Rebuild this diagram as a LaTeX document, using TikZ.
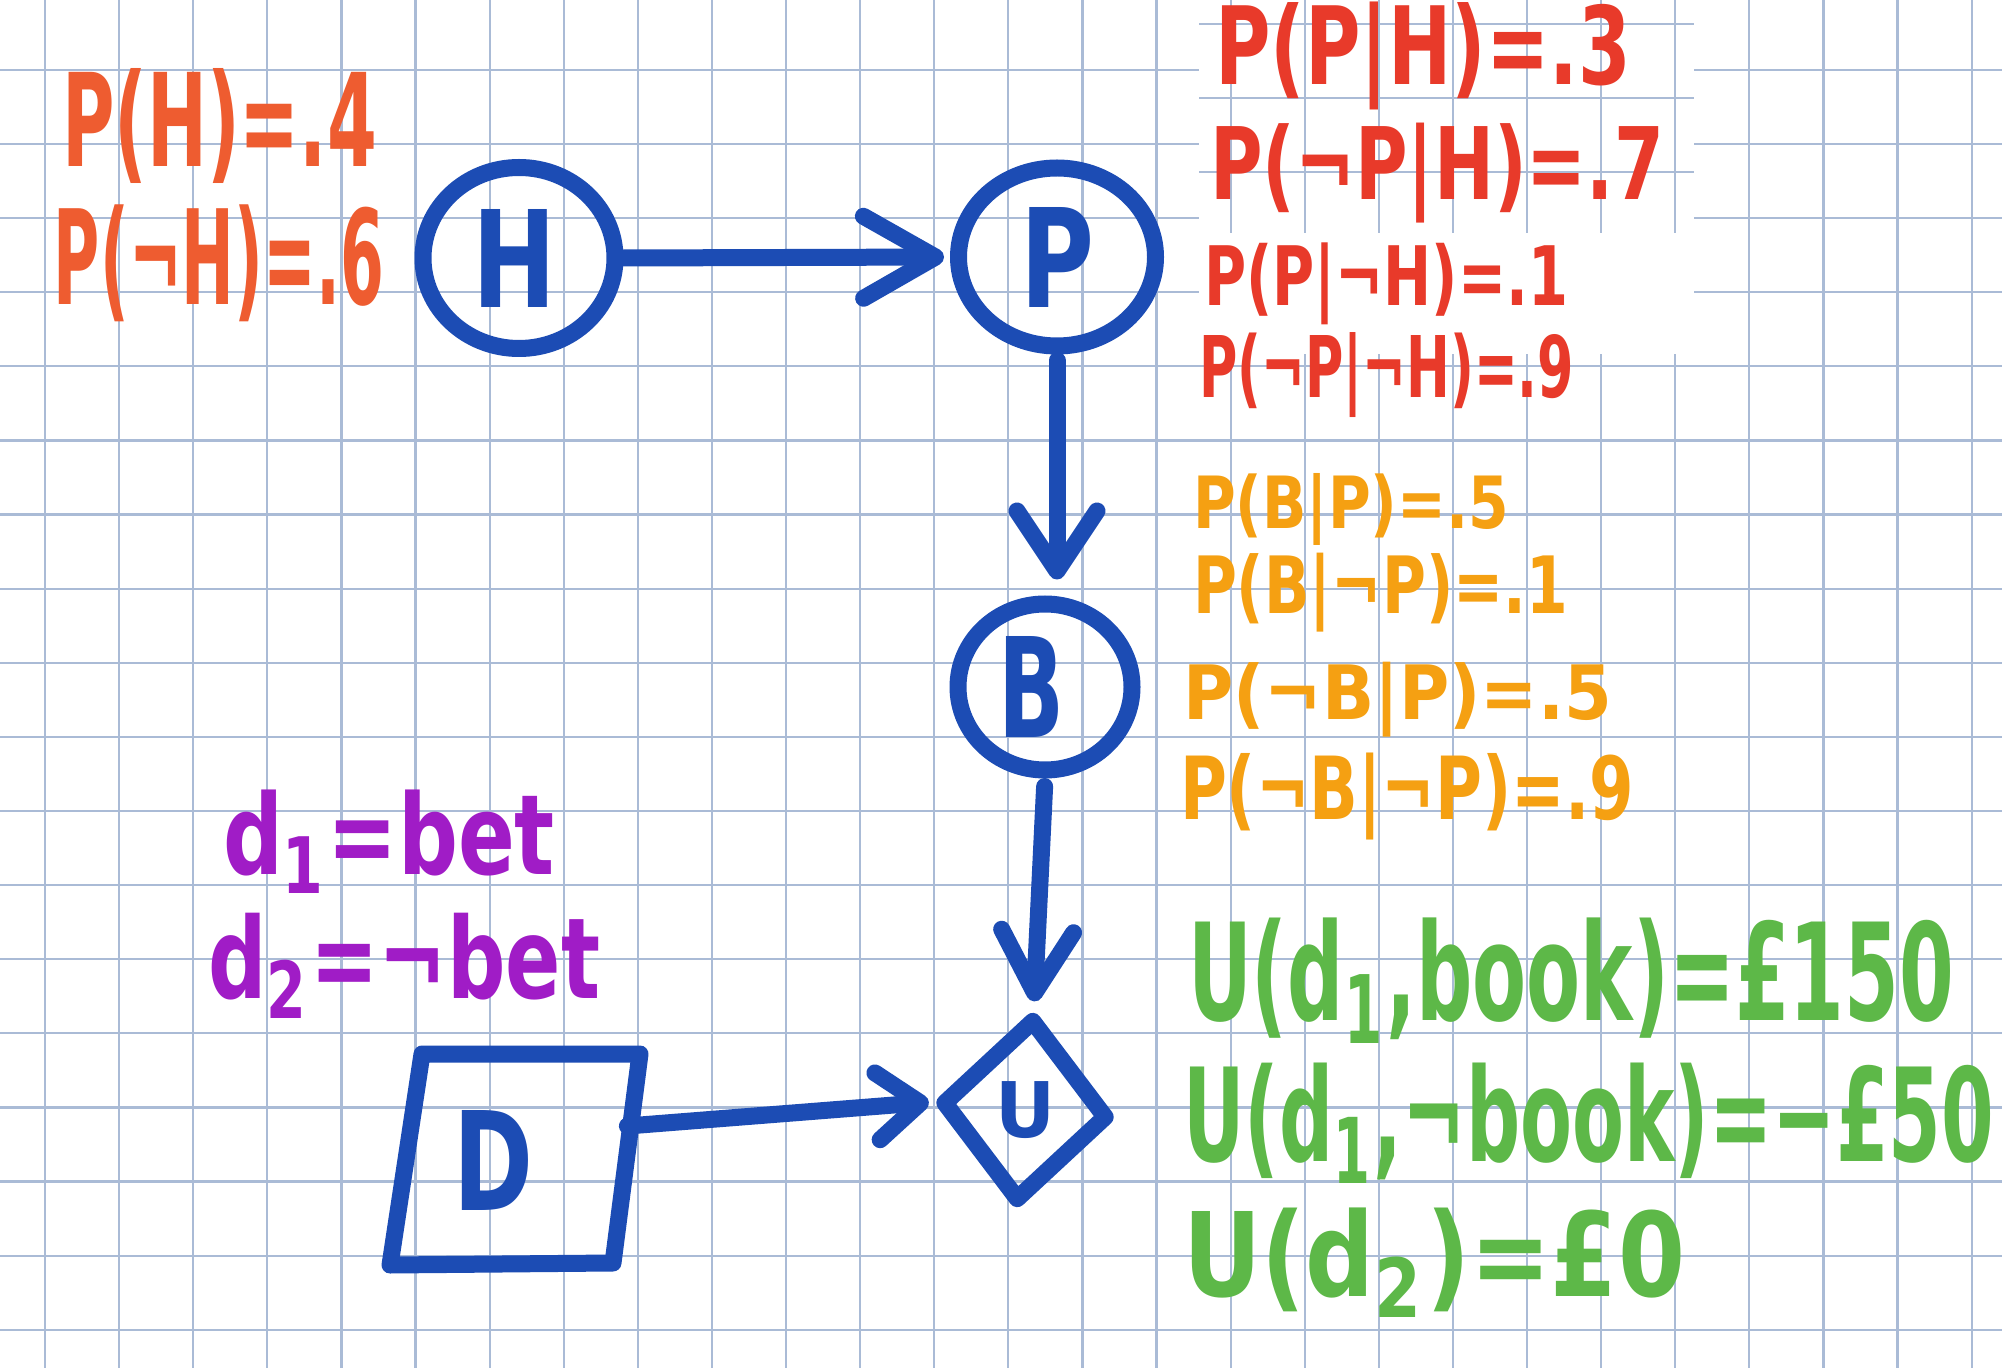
\documentclass[tikz,border=0pt]{standalone}
\usepackage{fontspec}
\usepackage{graphicx}
\newfontfamily\hand{DejaVu Sans}
\usetikzlibrary{shapes.geometric,arrows.meta,calc}
\definecolor{ink}{HTML}{1C4CB4}
\definecolor{gridc}{HTML}{AABBD6}
\definecolor{cH}{HTML}{EE5C30}
\definecolor{cP}{HTML}{E83A2A}
\definecolor{cB}{HTML}{F5A012}
\definecolor{cU}{HTML}{5DB848}
\definecolor{cD}{HTML}{A01CC6}
\newcommand{\hw}[3]{\resizebox*{#1}{#2}{\hand\bfseries #3}}
\begin{document}
\begin{tikzpicture}[x=0.5pt,y=-0.5pt,
  gridline/.style={draw=gridc,line width=1.1pt},
  nodeline/.style={draw=ink,line width=8.5pt},
  lbl/.style={anchor=north west,inner sep=0pt,outer sep=0pt},
  conn/.style={draw=ink,line width=8.5pt,line cap=round}]
\useasboundingbox (0,0) rectangle (2002,1368);
\fill[white] (0,0) rectangle (2002,1368);
% grid paper
\foreach \k in {0,...,26} {\draw[gridline] ({45+74.1*\k},0) -- ({45+74.1*\k},1368);}
\foreach \k in {0,...,17} {\draw[gridline] (0,{70+74.1*\k}) -- (2002,{70+74.1*\k});}
% pasted patch behind the red table
\fill[white] (1199,0) rectangle (1694,354);
\foreach \k in {16,...,22} {\draw[gridline] ({45+74.1*\k},0) -- ({45+74.1*\k},233);}
\foreach \yy in {24,98,172} {\draw[gridline] (1199,\yy) -- (1694,\yy);}

% nodes
\node[ellipse,nodeline,minimum width=96pt,minimum height=90.5pt,inner sep=0pt] (H) at (519,258)
  {\raisebox{-6.5pt}{\hspace*{-4pt}\textcolor{ink}{\hw{42pt}{49pt}{H}}}};
\node[ellipse,nodeline,minimum width=98.5pt,minimum height=89pt,inner sep=0pt] (P) at (1057,257)
  {\textcolor{ink}{\hw{37pt}{50pt}{P}}};
\node[ellipse,nodeline,minimum width=87pt,minimum height=83pt,inner sep=0pt] (B) at (1045,687)
  {\raisebox{-2.5pt}{\hspace*{-14pt}\textcolor{ink}{\hw{33pt}{50.5pt}{B}}}};
\node[diamond,nodeline,line join=round,minimum width=84pt,minimum height=92.5pt,inner sep=0pt,rotate=-5] (U) at (1025,1110)
  {\rotatebox{5}{\textcolor{ink}{\hw{30pt}{28.5pt}{U}}}};
\node[rectangle,minimum width=112pt,minimum height=103pt,inner sep=0pt] (D) at (515,1160)
  {\hspace*{-22pt}\textcolor{ink}{\hw{40pt}{50pt}{D}}};
\draw[nodeline,line join=round,line cap=round]
  ($(D.center)+(-93,-106)$) -- ($(D.center)+(125,-106)$) -- ($(D.center)+(98,103)$)
  -- ($(D.center)+(-125,105)$) -- cycle;

% connectors
\draw[conn,-{Straight Barb[length=36pt,width=41pt,round]},shorten >=3pt] (H.east) -- (P.west);
\draw[conn,-{Straight Barb[length=30pt,width=40pt,round]},shorten <=3pt,shorten >=8pt] (P.south) -- (P.south |- B.north);
\draw[conn,-{Straight Barb[length=31pt,width=36pt,round]},shorten <=4pt,shorten >=4pt] (B.south) -- (U.north);
\draw[conn,-{Straight Barb[length=21.5pt,width=33.5pt,round]},shorten >=2pt] ([yshift=17pt]D.east) -- (U.west);

% prior of H
\node[lbl,text=cH] (lh1) at (62,68) {\hw{157.5pt}{57.5pt}{P(H)=.4}};
\node[lbl,text=cH] (lh2) at (54,205) {\hw{165pt}{58.5pt}{P(¬H)=.6}};
% CPT of P
\node[lbl,text=cP] (lp1) at (1215,2) {\hw{208pt}{54pt}{P(P|H)=.3}};
\node[lbl,text=cP] (lp2) at (1210,123) {\hw{227pt}{50pt}{P(¬P|H)=.7}};
\node[lbl,text=cP] (lp3) at (1204,243) {\hw{182pt}{41pt}{P(P|¬H)=.1}};
\node[lbl,text=cP] (lp4) at (1199,333) {\hw{187.5pt}{42.5pt}{P(¬P|¬H)=.9}};
% CPT of B
\node[lbl,text=cB] (lb1) at (1193,473) {\hw{158pt}{36pt}{P(B|P)=.5}};
\node[lbl,text=cB] (lb2) at (1193,553) {\hw{187.5pt}{39.5pt}{P(B|¬P)=.1}};
\node[lbl,text=cB] (lb3) at (1183,662) {\hw{214.5pt}{37.5pt}{P(¬B|P)=.5}};
\node[lbl,text=cB] (lb4) at (1180,753) {\hw{227pt}{43.5pt}{P(¬B|¬P)=.9}};
% utilities
\node[lbl,text=cU] (lu1) at (1188,918) {\hw{383pt}{62.5pt}{U(d\textsubscript{1},book)=£150}};
\node[lbl,text=cU] (lu2) at (1183,1063) {\hw{405.5pt}{60pt}{U(d\textsubscript{1},¬book)=−£50}};
\node[lbl,text=cU] (lu3) at (1183,1208) {\hw{251pt}{54.5pt}{U(d\textsubscript{2})=£0}};
% decisions
\node[lbl,text=cD] (ld1) at (223,790) {\hw{166pt}{51.5pt}{d\textsubscript{1}=bet}};
\node[lbl,text=cD] (ld2) at (208,913) {\hw{196pt}{52.5pt}{d\textsubscript{2}=¬bet}};
\end{tikzpicture}
\end{document}
